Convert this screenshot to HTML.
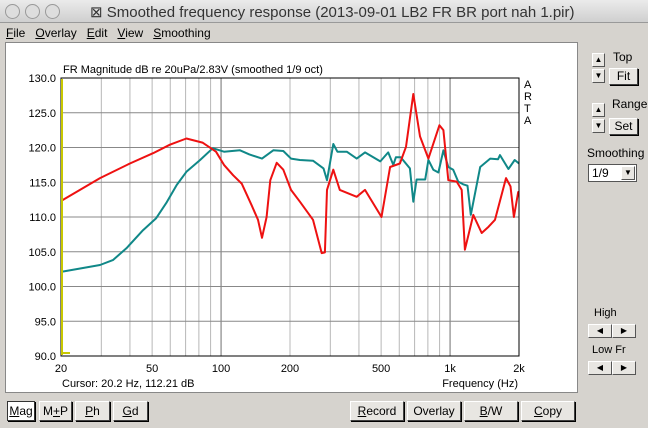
<!DOCTYPE html>
<html><head><meta charset="utf-8"><style>
body{margin:0;width:648px;height:428px;background:#d6d3ce;font-family:"Liberation Sans",sans-serif;overflow:hidden;position:relative}
.t{position:absolute;white-space:nowrap}
.btn{position:absolute;background:#e8e6e2;border:1px solid #404040;border-top-color:#fff;border-left-color:#fff;box-shadow:1px 1px 0 #000;font-size:12px;text-align:center;box-sizing:border-box}
.sb{position:absolute;width:13px;height:14px;background:#e8e6e2;border:1px solid #fff;border-right-color:#555;border-bottom-color:#555;box-sizing:border-box;font-size:8px;text-align:center;line-height:12px}
</style></head><body>
<div style="position:absolute;left:0;top:0;width:648px;height:22px;background:linear-gradient(#ebebeb,#cfcfcf);border-bottom:1px solid #999"></div>
<div class="t" style="left:5px;top:4px;width:13px;height:13px;border-radius:50%;border:1px solid #999;background:#ddd"></div>
<div class="t" style="left:25px;top:4px;width:13px;height:13px;border-radius:50%;border:1px solid #999;background:#ddd"></div>
<div class="t" style="left:45px;top:4px;width:13px;height:13px;border-radius:50%;border:1px solid #999;background:#ddd"></div>
<div class="t" style="left:90px;top:3px;font-size:15px;color:#333">⊠ Smoothed frequency response (2013-09-01 LB2 FR BR port nah 1.pir)</div>
<div class="t" style="left:6px;top:26px;font-size:12px"><u>F</u>ile &nbsp;&nbsp;<u>O</u>verlay &nbsp;&nbsp;<u>E</u>dit &nbsp;&nbsp;<u>V</u>iew &nbsp;&nbsp;<u>S</u>moothing</div>
<div style="position:absolute;left:5px;top:42px;width:573px;height:351px;background:#fff;border:1px solid #888;box-sizing:border-box"></div>
<svg width="648" height="428" style="position:absolute;left:0;top:0" id="s" font-family="Liberation Sans" font-size="11"></svg>
<div class="t" style="left:592px;top:53px"><div class="sb" style="position:static">▲</div><div class="sb" style="position:static;margin-top:2px">▼</div></div>
<div class="t" style="left:613px;top:50px;font-size:12px">Top</div>
<div class="btn" style="left:609px;top:68px;width:29px;height:17px;line-height:15px">Fit</div>
<div class="t" style="left:592px;top:103px"><div class="sb" style="position:static">▲</div><div class="sb" style="position:static;margin-top:2px">▼</div></div>
<div class="t" style="left:612px;top:97px;font-size:12px">Range</div>
<div class="btn" style="left:609px;top:118px;width:29px;height:17px;line-height:15px">Set</div>
<div class="t" style="left:587px;top:146px;font-size:12px">Smoothing</div>
<div class="t" style="left:588px;top:164px;width:49px;height:18px;background:#fff;border:1px solid #555;font-size:12px;box-sizing:border-box;padding-left:3px;line-height:16px">1/9<div class="sb" style="right:1px;top:1px;width:14px">▼</div></div>
<div class="t" style="left:594px;top:307px;font-size:11px">High</div>
<div class="sb" style="left:588px;top:324px;width:24px">◀</div><div class="sb" style="left:612px;top:324px;width:24px">▶</div>
<div class="t" style="left:592px;top:344px;font-size:11px">Low Fr</div>
<div class="sb" style="left:588px;top:361px;width:24px">◀</div><div class="sb" style="left:612px;top:361px;width:24px">▶</div>
<div class="btn" style="left:7px;top:401px;width:28px;height:20px;line-height:18px;background:#fff;border:1px solid #333"><u>M</u>ag</div>
<div class="btn" style="left:39px;top:401px;width:33px;height:20px;line-height:18px">M<u>+</u>P</div>
<div class="btn" style="left:75px;top:401px;width:35px;height:20px;line-height:18px"><u>P</u>h</div>
<div class="btn" style="left:113px;top:401px;width:35px;height:20px;line-height:18px"><u>G</u>d</div>
<div class="btn" style="left:350px;top:401px;width:54px;height:20px;line-height:18px"><u>R</u>ecord</div>
<div class="btn" style="left:407px;top:401px;width:54px;height:20px;line-height:18px">Overlay</div>
<div class="btn" style="left:464px;top:401px;width:54px;height:20px;line-height:18px"><u>B</u>/W</div>
<div class="btn" style="left:521px;top:401px;width:54px;height:20px;line-height:18px"><u>C</u>opy</div>
<script>
const X=f=>61+229*Math.log10(f/20), Y=d=>78+(130-d)*6.95;
let h='';
for(const f of [30,40,50,60,70,80,90,200,300,400,500,600,700,800,900,2000]) h+=`<line x1="${X(f)}" x2="${X(f)}" y1="78" y2="356" stroke="#b8b8b8"/>`;
for(const f of [100,1000]) h+=`<line x1="${X(f)}" x2="${X(f)}" y1="78" y2="356" stroke="#707070"/>`;
for(let d=90;d<=130;d+=5){h+=`<line x1="61" x2="519" y1="${Y(d)}" y2="${Y(d)}" stroke="#888"/>`;h+=`<text x="56" y="${Y(d)+4}" text-anchor="end">${d.toFixed(1)}</text>`;}
const lab=[[20,'20'],[50,'50'],[100,'100'],[200,'200'],[500,'500'],[1000,'1k'],[2000,'2k']];
for(const [f,t] of lab) h+=`<text x="${X(f)}" y="372" text-anchor="middle">${t}</text>`;
const red=[[20,112.3],[29.6,115.6],[40,117.7],[50.6,119.2],[59.8,120.4],[70.6,121.3],[83,120.7],[95,119.4],[103,117.5],[113,116],[123,114.8],[136,111.7],[145,109.6],[151,107],[158,110],[164,115.3],[175,117.8],[187,116.8],[202,113.9],[221,112.2],[252,109.6],[275,104.8],[284,104.9],[290,113.9],[309,116.8],[330,113.9],[391,112.9],[425,113.9],[502,110],[547,117.2],[604,117.7],[642,120.1],[691,127.7],[739,121.6],[804,118.4],[898,123.2],[935,122.5],[982,115.3],[1069,115.1],[1124,113.9],[1161,105.3],[1263,110.3],[1374,107.7],[1473,108.6],[1571,109.6],[1755,115.6],[1836,114.4],[1900,110],[1983,113.6],[2000,113.6]];
const teal=[[20,102.1],[29.6,103.1],[33.7,103.8],[38.6,105.5],[45.6,108.1],[52,109.8],[57.6,112],[64,114.6],[70.6,116.5],[81,118.2],[92,119.9],[103,119.4],[121,119.6],[133,119],[151,118.4],[169,119.6],[187,119.5],[202,118.4],[221,118.2],[252,118.1],[280,117],[290,115.3],[309,120.5],[322,119.4],[354,119.4],[391,118.4],[425,119.3],[496,118],[537,119.3],[565,117.5],[580,118.6],[609,118.6],[668,117],[691,112.2],[714,115.4],[779,115.4],[804,118.2],[845,116.8],[889,116.4],[935,119.6],[982,117.2],[1032,116.8],[1085,115.1],[1140,114.7],[1192,114.5],[1232,110.3],[1354,117.2],[1497,118.4],[1620,118.3],[1653,118.9],[1797,116.9],[1916,118.2],[2000,117.7]];
const pl=(a,c)=>`<polyline fill="none" stroke="${c}" stroke-width="2" stroke-linejoin="round" points="${a.map(p=>X(p[0]).toFixed(1)+','+Y(p[1]).toFixed(1)).join(' ')}"/>`;
h+=pl(teal,'#108888')+pl(red,'#ee1111');
h+=`<rect x="61" y="78" width="458" height="278" fill="none" stroke="#000"/>`;
h+=`<line x1="62" x2="62" y1="79" y2="355" stroke="#c8c800" stroke-width="2"/><line x1="62" x2="70" y1="353" y2="353" stroke="#c8c800" stroke-width="2"/>`;
h+=`<text x="63" y="73">FR Magnitude dB re 20uPa/2.83V (smoothed 1/9 oct)</text>`;
h+=`<text x="62" y="387">Cursor: 20.2 Hz, 112.21 dB</text><text x="518" y="387" text-anchor="end">Frequency (Hz)</text>`;
['A','R','T','A'].forEach((c,i)=>h+=`<text x="524" y="${88+i*12}">${c}</text>`);
document.getElementById('s').innerHTML=h;
</script>
</body></html>
